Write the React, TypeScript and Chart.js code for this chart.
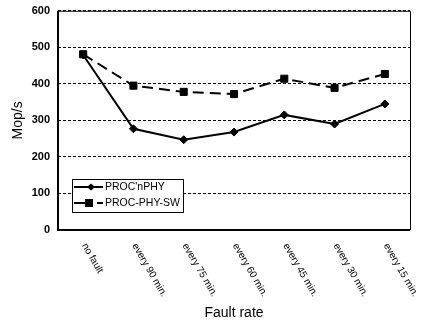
import React, { useEffect, useRef } from "react";
import { Chart, registerables } from "chart.js";

Chart.register(...registerables);

const categories = ["no fault", "every 90 min.", "every 75 min.", "every 60 min.", "every 45 min.", "every 30 min.", "every 15 min."];
const procNPhy = [479, 277, 247, 268, 315, 290, 345];
const procPhySw = [481, 395, 378, 372, 414, 389, 427];
const yTicks = [0, 100, 200, 300, 400, 500, 600];
const seriesNames = ["PROC'nPHY", "PROC-PHY-SW"];

const FONT = "'Liberation Sans', Arial, sans-serif";

const customPlugin = {
  id: "custom",
  afterDraw(chart: any) {
    const ctx = chart.ctx;
    const ca = chart.chartArea;
    const xs = chart.scales.x;
    ctx.save();
    ctx.setLineDash([]);
    // axis borders
    ctx.strokeStyle = "#000";
    ctx.lineWidth = 2;
    ctx.beginPath();
    ctx.moveTo(ca.left, ca.top);
    ctx.lineTo(ca.left, ca.bottom);
    ctx.lineTo(ca.right, ca.bottom);
    ctx.stroke();
    ctx.lineWidth = 1;
    ctx.beginPath();
    ctx.moveTo(ca.left, ca.top + 0.5);
    ctx.lineTo(ca.right + 0.5, ca.top + 0.5);
    ctx.lineTo(ca.right + 0.5, ca.bottom);
    ctx.stroke();
    // x labels rotated
    ctx.fillStyle = "#000";
    ctx.font = `10px ${FONT}`;
    ctx.textAlign = "left";
    ctx.textBaseline = "middle";
    categories.forEach((c, i) => {
      const x = xs.getPixelForValue(i);
      ctx.save();
      ctx.translate(x + 1, ca.bottom + 14);
      ctx.rotate(Math.PI / 3);
      ctx.fillText(c, 0, 0);
      ctx.restore();
    });
    // legend
    const lx = ca.left + 14;
    const ly = ca.bottom - 51;
    const lw = 111;
    const lh = 33;
    ctx.fillStyle = "#fff";
    ctx.fillRect(lx, ly, lw, lh);
    ctx.lineWidth = 1;
    ctx.strokeStyle = "#000";
    ctx.strokeRect(lx + 0.5, ly + 0.5, lw, lh);
    // row 1
    const r1 = ly + 8;
    ctx.lineWidth = 2;
    ctx.beginPath();
    ctx.moveTo(lx + 2, r1);
    ctx.lineTo(lx + 31, r1);
    ctx.stroke();
    ctx.fillStyle = "#000";
    ctx.beginPath();
    ctx.moveTo(lx + 19, r1 - 3.5);
    ctx.lineTo(lx + 23, r1);
    ctx.lineTo(lx + 19, r1 + 3.5);
    ctx.lineTo(lx + 15, r1);
    ctx.closePath();
    ctx.fill();
    // row 2
    const r2 = ly + 24;
    ctx.beginPath();
    ctx.moveTo(lx + 2, r2);
    ctx.lineTo(lx + 14, r2);
    ctx.moveTo(lx + 25, r2);
    ctx.lineTo(lx + 31, r2);
    ctx.stroke();
    ctx.fillRect(lx + 13, r2 - 4, 8, 8);
    ctx.font = `10.5px ${FONT}`;
    ctx.textAlign = "left";
    ctx.textBaseline = "middle";
    ctx.fillText(seriesNames[0], lx + 33, r1);
    ctx.fillText(seriesNames[1], lx + 33, r2);
    ctx.restore();
  },
};

export default function App() {
  const ref = useRef<HTMLCanvasElement>(null);
  useEffect(() => {
    const chart = new Chart(ref.current!, {
      type: "line",
      data: {
        labels: categories,
        datasets: [
          {
            label: seriesNames[0],
            data: procNPhy,
            borderColor: "#000",
            backgroundColor: "#000",
            borderWidth: 2,
            pointStyle: "rectRot",
            pointRadius: 4,
            pointBorderWidth: 1,
            tension: 0,
          },
          {
            label: seriesNames[1],
            data: procPhySw,
            borderColor: "#000",
            backgroundColor: "#000",
            borderWidth: 2,
            borderDash: [11, 6],
            pointStyle: "rect",
            pointRadius: 5,
            pointBorderWidth: 1,
            tension: 0,
          },
        ],
      },
      options: {
        animation: false,
        responsive: false,
        layout: { padding: { left: 10, right: 11, top: 3, bottom: 0 } },
        plugins: { legend: { display: false }, tooltip: { enabled: false } },
        scales: {
          x: {
            offset: true,
            grid: { display: false, drawTicks: false },
            border: { display: false },
            ticks: { display: false },
            title: { display: true, text: "Fault rate", color: "#000", font: { family: FONT, size: 14 }, padding: 0 },
            afterFit: (s: any) => { s.height = 92; },
          },
          y: {
            min: 0,
            max: 600,
            afterBuildTicks: (s: any) => { s.ticks = yTicks.map((v) => ({ value: v })); },
            grid: { color: "#000", lineWidth: 1, drawTicks: false },
            border: { display: false, dash: [3, 2] },
            ticks: { color: "#000", font: { family: FONT, size: 11, weight: "bold", lineHeight: 0.5 }, padding: 8 },
            title: { display: true, text: "Mop/s", color: "#000", font: { family: FONT, size: 14 }, padding: 0 },
            afterFit: (s: any) => { s.width = 48; },
          },
        },
      },
      plugins: [customPlugin],
    } as any);
    return () => chart.destroy();
  }, []);
  return (
    <div style={{ position: "fixed", left: 0, top: 0, width: 421, height: 322, background: "#fff" }}>
      <canvas ref={ref} width={421} height={322} style={{ width: 421, height: 322 }} />
    </div>
  );
}
